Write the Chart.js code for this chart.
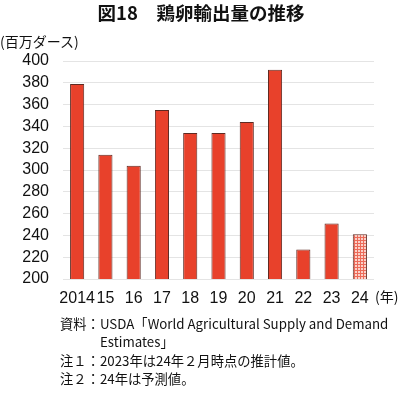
<!DOCTYPE html>
<html><head><meta charset="utf-8">
<script src="https://cdn.jsdelivr.net/npm/chart.js@4"></script>
<style>
html,body{margin:0;padding:0;background:#fff;}
#wrap{position:relative;width:400px;height:394px;overflow:hidden;font-family:"Noto Sans CJK JP","Liberation Sans",sans-serif;color:#111;}
canvas{position:absolute;left:0;top:0;}
.t{position:absolute;white-space:nowrap;line-height:1;}
#title{left:0;width:402px;text-align:center;top:3px;font-size:18.5px;font-weight:bold;}
#unit{left:0;top:34px;font-size:14px;}
#nen{left:375px;top:289px;font-size:14px;}
.note{font-size:13.3px;left:60px;}
</style></head>
<body><div id="wrap">
<canvas id="c" width="400" height="394"></canvas>
<div class="t" id="title">図18　鶏卵輸出量の推移</div>
<div class="t" id="unit">(百万ダース)</div>
<div class="t" id="nen">(年)</div>
<div class="t note" style="top:317px">資料：USDA「World Agricultural Supply and Demand</div>
<div class="t note" style="top:335px;left:100px">Estimates」</div>
<div class="t note" style="top:354px">注１：2023年は24年２月時点の推計値。</div>
<div class="t note" style="top:372px">注２：24年は予測値。</div>
</div>
<script>
const categories = ["2014","15","16","17","18","19","20","21","22","23","24"];
const exportsValues = [379, 314, 304, 355, 334, 334, 344, 392, 227, 251, 241];
const yTicks = [200,220,240,260,280,300,320,340,360,380,400];

function makePattern(){
  const p = document.createElement('canvas');
  p.width = 3; p.height = 3;
  const g = p.getContext('2d');
  g.fillStyle = '#fbd0c8'; g.fillRect(0,0,3,3);
  g.fillStyle = '#ec6a58'; g.fillRect(0,0,3,1); g.fillRect(0,0,1,3);
  return g.createPattern(p,'repeat');
}
const pat = makePattern();
const fills = categories.map((c,i)=> i===categories.length-1 ? pat : '#e8412b');

new Chart(document.getElementById('c'), {
  type:'bar',
  data:{labels:categories, datasets:[{data:exportsValues, backgroundColor:fills, borderColor:'#5e2a22', borderWidth:1, borderSkipped:'bottom', barPercentage:0.5, categoryPercentage:1.0}]},
  options:{
    responsive:false, animation:false,
    layout:{padding:{left:0,right:26,top:61,bottom:85}},
    plugins:{legend:{display:false},title:{display:false},tooltip:{enabled:false}},
    scales:{
      x:{grid:{display:false,drawTicks:false},border:{display:false},
         ticks:{autoSkip:false,maxRotation:0,minRotation:0,padding:10,color:'#111',font:{family:'"Liberation Sans", Arial, sans-serif',size:16}},
         afterFit:s=>{s.height=30;}},
      y:{min:200,max:400,
         afterBuildTicks:s=>{s.ticks=yTicks.map(v=>({value:v}));},
         grid:{color:'#e4e4e4',lineWidth:1,drawTicks:false},border:{display:false},
         ticks:{autoSkip:false,padding:14,color:'#111',font:{family:'"Liberation Sans", Arial, sans-serif',size:16}},
         afterFit:s=>{s.width=63;}}
    }
  }
});
</script>
</body></html>
